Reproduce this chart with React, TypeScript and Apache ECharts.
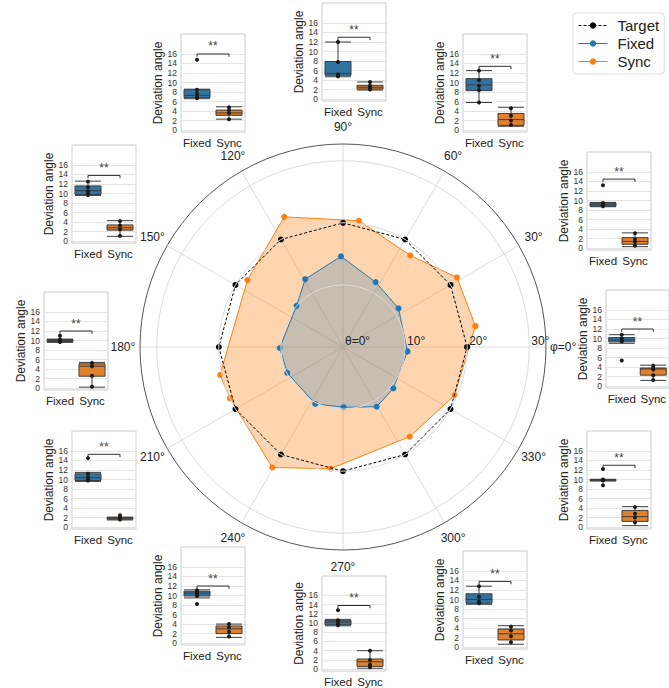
import React, { useEffect, useRef } from "react";
import * as echarts from "echarts";

// ---------- polar data ----------
const directions = [0, 30, 60, 90, 120, 150, 180, 210, 240, 270, 300, 330];
const targetR = [20, 20, 20, 20, 20, 20, 20, 20, 20, 20, 20, 20];
const targetAngle = [0, 30, 60, 90, 120, 150, 180, 210, 240, 270, 300, 330];
const fixedR = [10.4, 10.9, 11.7, 14.6, 12.5, 10.0, 10.2, 9.9, 10.2, 9.7, 11.05, 10.5];
const fixedAngle = [356.1, 34.8, 63.3, 91.3, 119.1, 138.5, 180.9, 204.8, 244, 270.6, 299.4, 320.6];
const syncR = [21.6, 21.5, 18.3, 20.5, 23.0, 18.8, 20.3, 20.0, 22.5, 19.7, 18.0, 19.6];
const syncAngle = [9.0, 31.4, 53.7, 82.8, 114.3, 145, 192.8, 204.4, 239.6, 264.2, 306.7, 336.7];
const radialTicks = [0, 10, 20, 30];
const angleTickLabels = ["φ=0°", "30°", "60°", "90°", "120°", "150°", "180°", "210°", "240°", "270°", "300°", "330°"];

// ---------- box plot data (same order as directions) ----------
const categories = ["Fixed", "Sync"];
const yTicks = [0, 2, 4, 6, 8, 10, 12, 14, 16];
const fixedBoxStats = [
  [9.0, 9.3, 9.7, 10.2, 10.8],
  [8.7, 8.8, 9.1, 9.5, 9.6],
  [5.8, 8.3, 9.5, 10.8, 12.5],
  [4.7, 5.0, 5.4, 7.9, 12.0],
  [6.6, 6.8, 7.3, 8.5, 8.6],
  [9.6, 9.8, 10.6, 11.6, 12.6],
  [9.6, 9.8, 10.0, 10.2, 10.3],
  [9.6, 9.8, 10.4, 11.2, 11.5],
  [9.5, 9.9, 10.5, 10.9, 11.2],
  [9.4, 9.6, 10.2, 10.6, 10.8],
  [9.0, 9.2, 10.0, 11.2, 12.8],
  [9.7, 9.75, 9.9, 10.0, 10.05],
];
const syncBoxStats = [
  [1.2, 2.3, 3.6, 3.8, 4.4],
  [0.3, 0.8, 1.4, 2.2, 3.2],
  [0.8, 1.0, 2.2, 3.5, 4.8],
  [1.9, 2.1, 2.5, 2.9, 3.6],
  [2.3, 3.1, 3.6, 4.2, 4.9],
  [1.0, 2.3, 2.8, 3.4, 4.3],
  [0.2, 2.5, 4.6, 5.1, 5.4],
  [1.5, 1.65, 1.85, 2.0, 2.1],
  [1.2, 2.0, 3.0, 3.6, 4.0],
  [0.2, 0.6, 1.6, 2.2, 4.0],
  [0.6, 1.5, 2.8, 3.8, 4.5],
  [0.3, 1.2, 2.2, 3.5, 4.3],
];
const fixedPoints = [
  [10.8, 10.0, 9.6, 9.4, 5.4],
  [13.2, 9.5, 9.2, 9.0, 8.8],
  [12.5, 10.5, 9.3, 8.4, 5.8],
  [12.0, 7.8, 5.2, 4.9, 4.8],
  [14.8, 8.5, 7.7, 7.0, 6.7],
  [12.5, 11.3, 10.5, 10.0, 9.7],
  [11.0, 10.2, 10.0, 9.8, 9.7],
  [14.5, 11.2, 10.5, 10.0, 9.8],
  [11.1, 10.6, 10.2, 9.9, 8.2],
  [12.8, 10.6, 10.4, 9.8, 9.5],
  [12.8, 10.6, 9.6, 9.2],
  [12.2, 10.0, 9.9, 9.8, 8.8],
];
const syncPoints = [
  [4.3, 3.8, 3.5, 2.3, 1.3],
  [3.1, 1.8, 1.3, 0.5],
  [4.6, 3.0, 2.0, 1.1],
  [3.6, 2.8, 2.3, 2.0],
  [4.8, 4.2, 3.6, 2.3],
  [4.2, 3.3, 2.5, 1.1],
  [5.3, 4.6, 2.6, 0.3],
  [2.5, 2.0, 1.8, 1.6],
  [4.0, 3.3, 2.4, 1.4],
  [4.0, 2.0, 1.0, 0.4],
  [4.3, 3.5, 2.3, 1.0],
  [4.2, 2.8, 2.0, 1.0],
];
const bracketLevel = [12, 14.5, 13.4, 13, 16, 13.8, 12, 15.3, 12, 13.8, 13.8, 13];
const bracketLeg = 0.6;
const significance = ["**", "**", "**", "**", "**", "**", "**", "**", "**", "**", "**", "**"];

// ---------- layout (pixels) ----------
const panelLayout = [
  { left: 606, top: 290 },
  { left: 587, top: 152 },
  { left: 463, top: 34 },
  { left: 322, top: 3 },
  { left: 181, top: 34 },
  { left: 72, top: 145 },
  { left: 44, top: 292 },
  { left: 72, top: 431 },
  { left: 181, top: 547 },
  { left: 322, top: 576 },
  { left: 463, top: 551 },
  { left: 587, top: 431 },
];
const PANEL_W = 64;
const PANEL_H = 98;
const ANGLE_LABEL_R = 35.45; // in radial units, just outside the frame
const FONT = "Liberation Sans";
const TEXT_DARK = "#222222";
const C_FIXED = "#1f77b4";
const C_SYNC = "#ff7f0e";
const C_FIXED_BOX = "#3274A1";
const C_SYNC_BOX = "#E1812C";

function buildOption() {
  const fixedData = fixedR.map((r, i) => [r, fixedAngle[i]]);
  const syncData = syncR.map((r, i) => [r, syncAngle[i]]);
  const targetData = targetR.map((r, i) => [r, targetAngle[i]]);

  const fillSeries = (name: string, data: number[][], fill: string, z: number) => ({
    type: "custom",
    name,
    coordinateSystem: "polar",
    silent: true,
    z,
    data,
    renderItem: (params: any, api: any) => {
      if (params.dataIndex !== 0) return null;
      const pts = data.map((d) => api.coord(d));
      return {
        type: "polygon",
        shape: { points: pts },
        style: { fill, stroke: "none" },
      };
    },
  });

  const grids: any[] = [];
  const xAxes: any[] = [];
  const yAxes: any[] = [];
  const panelSeries: any[] = [];

  directions.forEach((dir, i) => {
    const L = panelLayout[i];
    grids.push({
      left: L.left,
      top: L.top,
      width: PANEL_W,
      height: PANEL_H,
      show: true,
      borderColor: "#cccccc",
      borderWidth: 1,
      backgroundColor: "transparent",
    });
    xAxes.push({
      type: "category",
      gridIndex: i,
      data: categories,
      axisLine: { show: false },
      axisTick: { show: false },
      splitLine: { show: false },
      axisLabel: { interval: 0, fontSize: 11.5, color: TEXT_DARK, margin: 5, fontFamily: FONT },
    });
    xAxes.push({
      type: "value",
      gridIndex: i,
      show: false,
      min: -0.5,
      max: categories.length - 0.5,
    });
    yAxes.push({
      type: "value",
      gridIndex: i,
      min: -0.4,
      max: 20.2,
      name: "Deviation angle",
      nameLocation: "middle",
      nameGap: 17,
      nameTextStyle: { fontSize: 12, color: TEXT_DARK, fontFamily: FONT },
      axisLine: { show: false },
      axisTick: { show: false, customValues: yTicks },
      axisLabel: { customValues: yTicks, fontSize: 8.5, color: "#333", margin: 4, fontFamily: FONT },
      splitLine: { show: true, lineStyle: { color: "#e3e3e3", width: 1 } },
    });
    const lvl = bracketLevel[i];
    panelSeries.push({
      type: "boxplot",
      xAxisIndex: 2 * i,
      yAxisIndex: i,
      boxWidth: [26, 26],
      silent: true,
      itemStyle: { borderColor: "#3d3d3d", borderWidth: 1 },
      data: [
        { value: fixedBoxStats[i], itemStyle: { color: C_FIXED_BOX } },
        { value: syncBoxStats[i], itemStyle: { color: C_SYNC_BOX } },
      ],
    });
    panelSeries.push({
      type: "scatter",
      xAxisIndex: 2 * i,
      yAxisIndex: i,
      silent: true,
      symbolSize: 4,
      itemStyle: { color: "#1a1a1a", opacity: 1 },
      z: 5,
      data: [
        ...fixedPoints[i].map((v) => [categories[0], v]),
        ...syncPoints[i].map((v) => [categories[1], v]),
      ],
    });
    panelSeries.push({
      type: "line",
      xAxisIndex: 2 * i + 1,
      yAxisIndex: i,
      silent: true,
      symbol: "none",
      color: "#333333",
      lineStyle: { color: "#333333", width: 1 },
      z: 6,
      data: [
        [0, lvl - bracketLeg],
        [0, lvl],
        [1, lvl],
        [1, lvl - bracketLeg],
      ],
    });
    panelSeries.push({
      type: "scatter",
      xAxisIndex: 2 * i + 1,
      yAxisIndex: i,
      silent: true,
      color: "#444444",
      symbol: "circle",
      symbolSize: 1,
      itemStyle: { color: "rgba(0,0,0,0)", opacity: 1 },
      z: 6,
      data: [{ value: [0.5, lvl], name: significance[i] }],
      label: {
        show: true,
        position: "top",
        distance: 1,
        formatter: (p: any) => p.name,
        fontSize: 12,
        color: "#444444",
        fontFamily: FONT,
      },
    });
  });

  return {
    animation: false,
    textStyle: { fontFamily: FONT },
    legend: {
      data: ["Target", "Fixed", "Sync"],
      orient: "vertical",
      left: 573,
      top: 13,
      padding: [5, 5, 5, 5],
      itemGap: 3,
      itemWidth: 29,
      itemHeight: 8,
      lineStyle: { width: 1 },
      borderColor: "#dddddd",
      borderWidth: 1,
      borderRadius: 3,
      backgroundColor: "#fff",
      textStyle: { fontSize: 15, color: TEXT_DARK, fontFamily: FONT, padding: [0, 0, 0, 5] },
    },
    polar: { center: [343, 347], radius: 203 },
    angleAxis: {
      type: "value",
      min: 0,
      max: 360,
      interval: 30,
      startAngle: 0,
      clockwise: false,
      axisLine: { show: true, lineStyle: { color: "#555", width: 1 } },
      axisTick: { show: false },
      axisLabel: { show: false },
      splitLine: { show: true, lineStyle: { color: "#dcdcdc", width: 1 } },
    },
    radiusAxis: {
      type: "value",
      min: 0,
      max: 32.7,
      axisLine: { show: false },
      axisTick: { show: false, customValues: radialTicks },
      splitLine: { show: true, lineStyle: { color: "#dcdcdc", width: 1 } },
      axisLabel: {
        customValues: radialTicks,
        align: "left",
        verticalAlign: "bottom",
        margin: 0,
        padding: [0, 0, 0, 2],
        fontSize: 12,
        color: TEXT_DARK,
        fontFamily: FONT,
        formatter: (v: number) => (v === 0 ? "θ=0°" : v + "°"),
      },
      z: 10,
    },
    grid: grids,
    xAxis: xAxes,
    yAxis: yAxes,
    series: [
      fillSeries("syncFill", syncData, "rgba(255,127,14,0.33)", 1),
      fillSeries("fixedFill", fixedData, "rgba(31,119,180,0.25)", 2),
      {
        type: "line",
        name: "Sync",
        coordinateSystem: "polar",
        data: [...syncData, syncData[0]],
        symbol: "circle",
        symbolSize: 6,
        lineStyle: { color: C_SYNC, width: 1 },
        itemStyle: { color: C_SYNC },
        z: 3,
      },
      {
        type: "line",
        name: "Fixed",
        coordinateSystem: "polar",
        data: [...fixedData, fixedData[0]],
        symbol: "circle",
        symbolSize: 6,
        lineStyle: { color: C_FIXED, width: 1 },
        itemStyle: { color: C_FIXED },
        z: 4,
      },
      {
        type: "line",
        name: "Target",
        coordinateSystem: "polar",
        data: [...targetData, targetData[0]],
        symbol: "circle",
        symbolSize: 6,
        lineStyle: { color: "#000", width: 1, type: [3, 2] },
        itemStyle: { color: "#000" },
        z: 5,
      },
      {
        type: "scatter",
        name: "angleLabels",
        coordinateSystem: "polar",
        color: TEXT_DARK,
        silent: true,
        clip: false,
        symbol: "circle",
        symbolSize: 1,
        z: 10,
        itemStyle: { color: "rgba(0,0,0,0)", opacity: 1 },
        data: directions.map((a, i) => ({ value: [ANGLE_LABEL_R, a], name: angleTickLabels[i] })),
        label: {
          show: true,
          position: "inside",
          formatter: (p: any) => p.name,
          fontSize: 12,
          color: TEXT_DARK,
          textBorderWidth: 0,
          fontFamily: FONT,
        },
      },
      ...panelSeries,
    ],
  };
}

export default function App() {
  const ref = useRef<HTMLDivElement>(null);
  useEffect(() => {
    if (!ref.current) return;
    const chart = echarts.init(ref.current, undefined, { renderer: "svg" });
    chart.setOption(buildOption() as any);
    return () => chart.dispose();
  }, []);
  return (
    <div
      ref={ref}
      style={{ position: "absolute", left: 0, top: 0, width: 669, height: 688, background: "#fff" }}
    />
  );
}
